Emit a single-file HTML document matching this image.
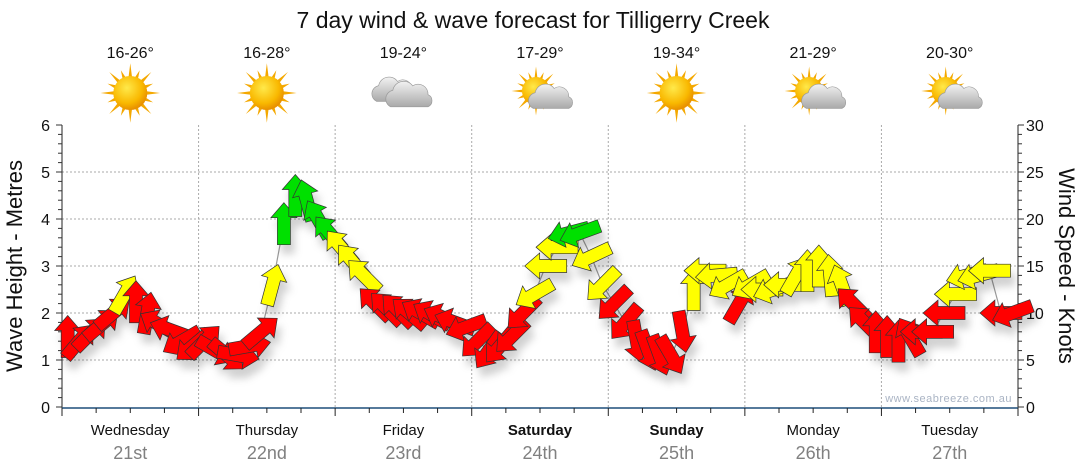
<!DOCTYPE html>
<html><head><meta charset="utf-8"><style>
body{margin:0;background:#fff;}
svg{display:block;font-family:"Liberation Sans",Arial,sans-serif;}
</style></head><body>
<svg id="chart" width="1080" height="475" viewBox="0 0 1080 475">
<defs>
<filter id="sh" x="-50%" y="-50%" width="200%" height="200%"><feDropShadow dx="4" dy="9" stdDeviation="4" flood-color="#000" flood-opacity="0.18"/></filter>
<radialGradient id="sunG" cx="40%" cy="35%" r="65%"><stop offset="0" stop-color="#ffe94a"/><stop offset="0.7" stop-color="#f9b800"/><stop offset="1" stop-color="#e89000"/></radialGradient>
<linearGradient id="cloudG" x1="0" y1="0" x2="0" y2="1"><stop offset="0" stop-color="#f2f2f2"/><stop offset="1" stop-color="#a9a9a9"/></linearGradient>
</defs>
<text x="533" y="28" text-anchor="middle" font-size="23" fill="#111">7 day wind &amp; wave forecast for Tilligerry Creek</text>
<g id="header"></g>
<g id="grid"></g>
<g id="axes"></g>
<g id="series"></g>
<text x="1012" y="402" text-anchor="end" font-size="11" fill="#aab4c4" letter-spacing="0.5">www.seabreeze.com.au</text>
<text transform="translate(22,266) rotate(-90)" text-anchor="middle" font-size="22" fill="#111">Wave Height - Metres</text>
<text transform="translate(1059,266) rotate(90)" text-anchor="middle" font-size="22" fill="#111">Wind Speed - Knots</text>
</svg>
<script>
const dayNames = ["Wednesday","Thursday","Friday","Saturday","Sunday","Monday","Tuesday"];
const dayDates = ["21st","22nd","23rd","24th","25th","26th","27th"];
const boldDays = [false,false,false,true,true,false,false];
const tempRanges = ["16-26°","16-28°","19-24°","17-29°","19-34°","21-29°","20-30°"];
const weatherIcons = ["sun","sun","cloud","partly","sun","partly","partly"];
const waveTicks = [0,1,2,3,4,5,6];
const windTicks = [0,5,10,15,20,25,30];
// wind speed (knots), one every 2 hours
const windSpeed = [
7.5,7,7.8,8.8,10,12,11.2,10,8.8,8.2,7,6.5,
7,6,5.5,5.5,6.5,8,13,19.5,22.5,22,20,18.5,
17,15.5,14,11,10.5,10.3,10,10,9.8,9.5,9,8.5,
7,6,6.5,7.5,10,12,15,17,18.5,18.5,16,13,
11,9,7,6,5.5,5.5,8,12.5,14.5,14,13,11,
13,12.5,12.5,13,14,14.5,15,14,13,11,9,8,
7.5,7,7.5,8,8,10,12,14,14,14.5,10,10];
// direction arrow points to (degrees, 0 = up, 90 = right)
const windDir = [
0,40,45,50,50,30,0,10,300,290,240,230,
45,120,130,100,80,50,15,0,0,345,330,320,
320,320,315,315,315,315,310,300,300,295,290,250,
225,215,220,225,225,240,270,270,255,250,245,225,
225,220,170,160,160,150,170,0,270,265,240,30,
240,270,250,270,30,0,0,355,340,315,315,0,
0,0,330,270,270,270,270,255,255,270,270,250];

const X0=62, X1=1018, Y0=407, Y1=125;
const NS="http://www.w3.org/2000/svg";
const hrs=168, step=2;
const xScale = t => X0 + t/hrs*(X1-X0);
const yWave = m => Y0 - m/6*(Y0-Y1);
const yWind = k => Y0 - k/30*(Y0-Y1);
function mk(tag, attrs, parent){const e=document.createElementNS(NS,tag);for(const k in attrs)e.setAttribute(k,attrs[k]);parent.appendChild(e);return e;}
const grid=document.getElementById('grid'), axes=document.getElementById('axes'), series=document.getElementById('series'), header=document.getElementById('header');
const dayW=(X1-X0)/7;

// header
tempRanges.forEach((tr,i)=>{
  const cx=X0+dayW*(i+0.5);
  const t=mk('text',{x:cx,y:58,'text-anchor':'middle','font-size':'16',fill:'#111'},header);
  t.textContent=tr;
  
  
  const g=mk('g',{transform:`translate(${cx},93)`},header);
  
  
  const sun=(sx,sy,r)=>{
    let d='';
    for(let a=0;a<16;a++){const an=a*Math.PI/8, L=(a%2?r*1.45:r*1.75);
      const p1=[sx+Math.cos(an-0.12)*r*0.9,sy+Math.sin(an-0.12)*r*0.9],p2=[sx+Math.cos(an)*L,sy+Math.sin(an)*L],p3=[sx+Math.cos(an+0.12)*r*0.9,sy+Math.sin(an+0.12)*r*0.9];
      d+=`M${p1}L${p2}L${p3}Z`;}
    mk('path',{d,fill:'#f4a800'},g);
    mk('circle',{cx:sx,cy:sy,r:r,fill:'url(#sunG)'},g);
  };
  const cloud=(cx2,cy2,s)=>{
    const gg=mk('g',{transform:`translate(${cx2},${cy2}) scale(${s})`},g);
    mk('path',{d:'M-18,8 a8,8 0 0 1 2,-15 a10,10 0 0 1 18,-4 a9,9 0 0 1 14,8 a6,6 0 0 1 0,11 Z',fill:'url(#cloudG)',stroke:'#999','stroke-width':'0.6'},gg);
  };
  if(weatherIcons[i]==='sun') sun(0,0,17);
  else if(weatherIcons[i]==='cloud'){cloud(-8,0,1.05);cloud(7,5,1.1);}
  else {sun(-4,-2,14);cloud(12,7,1.05);}
});

// grid lines
for(let m=1;m<=5;m++){
  const l=mk('line',{x1:X0,x2:X1,y1:yWave(m),y2:yWave(m),stroke:'#aaa','stroke-dasharray':'2,2','stroke-width':'1'},grid);
  
  
}
for(let d=1;d<7;d++){
  const x=X0+d*dayW;
  const l=mk('line',{x1:x,x2:x,y1:Y1,y2:Y0,stroke:'#aaa','stroke-dasharray':'2,2','stroke-width':'1'},grid);
  
  
}
// axes
mk('line',{x1:X0,x2:X0,y1:Y1,y2:Y0+6,stroke:'#222','stroke-width':'1'},axes);
mk('line',{x1:X1,x2:X1,y1:Y1,y2:Y0+6,stroke:'#222','stroke-width':'1'},axes);
mk('line',{x1:X0,x2:X1,y1:Y0+1,y2:Y0+1,stroke:'#1f4f7a','stroke-width':'1.5'},axes);
for(let m=0;m<=6.001;m+=0.2){
  const y=yWave(m), major=Math.abs(m-Math.round(m))<0.01;
  mk('line',{x1:X0-(major?6:4),x2:X0,y1:y,y2:y,stroke:'#333'},axes);
}
waveTicks.forEach(v=>{
  const t=mk('text',{x:X0-12,y:yWave(v)+6,'text-anchor':'end','font-size':'16',fill:'#111'},axes);
  t.textContent=v;
  
  
});
for(let k=0;k<=30;k++){
  const y=yWind(k);
  mk('line',{x1:X1,x2:X1+(k%5===0?6:4),y1:y,y2:y,stroke:'#333'},axes);
}
windTicks.forEach(v=>{
  const t=mk('text',{x:X1+8,y:yWind(v)+6,'font-size':'16',fill:'#111'},axes);
  t.textContent=v;
  
  
});
for(let h=0;h<=hrs;h+=6){
  const x=xScale(h);
  mk('line',{x1:x,x2:x,y1:Y0+1,y2:Y0+(h%24===0?9:6),stroke:'#222'},axes);
}
dayNames.forEach((n,i)=>{
  const cx=X0+dayW*(i+0.5);
  const t=mk('text',{x:cx,y:435,'text-anchor':'middle','font-size':'15',fill:'#111','font-weight':boldDays[i]?'bold':'normal'},axes);
  t.textContent=n;
  
  
  const d=mk('text',{x:cx,y:459,'text-anchor':'middle','font-size':'18',fill:'#808080'},axes);
  d.textContent=dayDates[i];
  
  
});

// wind series
const pts=windSpeed.map((v,i)=>[xScale(i*step+step/2), yWind(v)]);
const line=mk('polyline',{points:pts.map(p=>p.join(',')).join(' '),fill:'none',stroke:'#999','stroke-width':'1.2'},series);


const ag=mk('g',{filter:'url(#sh)'},series);
const arrowPath='M0,-21 L13,-6 L6.5,-6 L6.5,21 L-6.5,21 L-6.5,-6 L-13,-6 Z';
windSpeed.forEach((v,i)=>{
  const col=v>=18?'#00e000':(v>=11.5?'#ffff00':'#ff0000');
  const a=mk('path',{d:arrowPath,fill:col,stroke:'#333','stroke-width':'0.7',transform:`translate(${pts[i][0]},${pts[i][1]}) rotate(${windDir[i]})`},ag);
  
  
});
</script>
</body></html>
